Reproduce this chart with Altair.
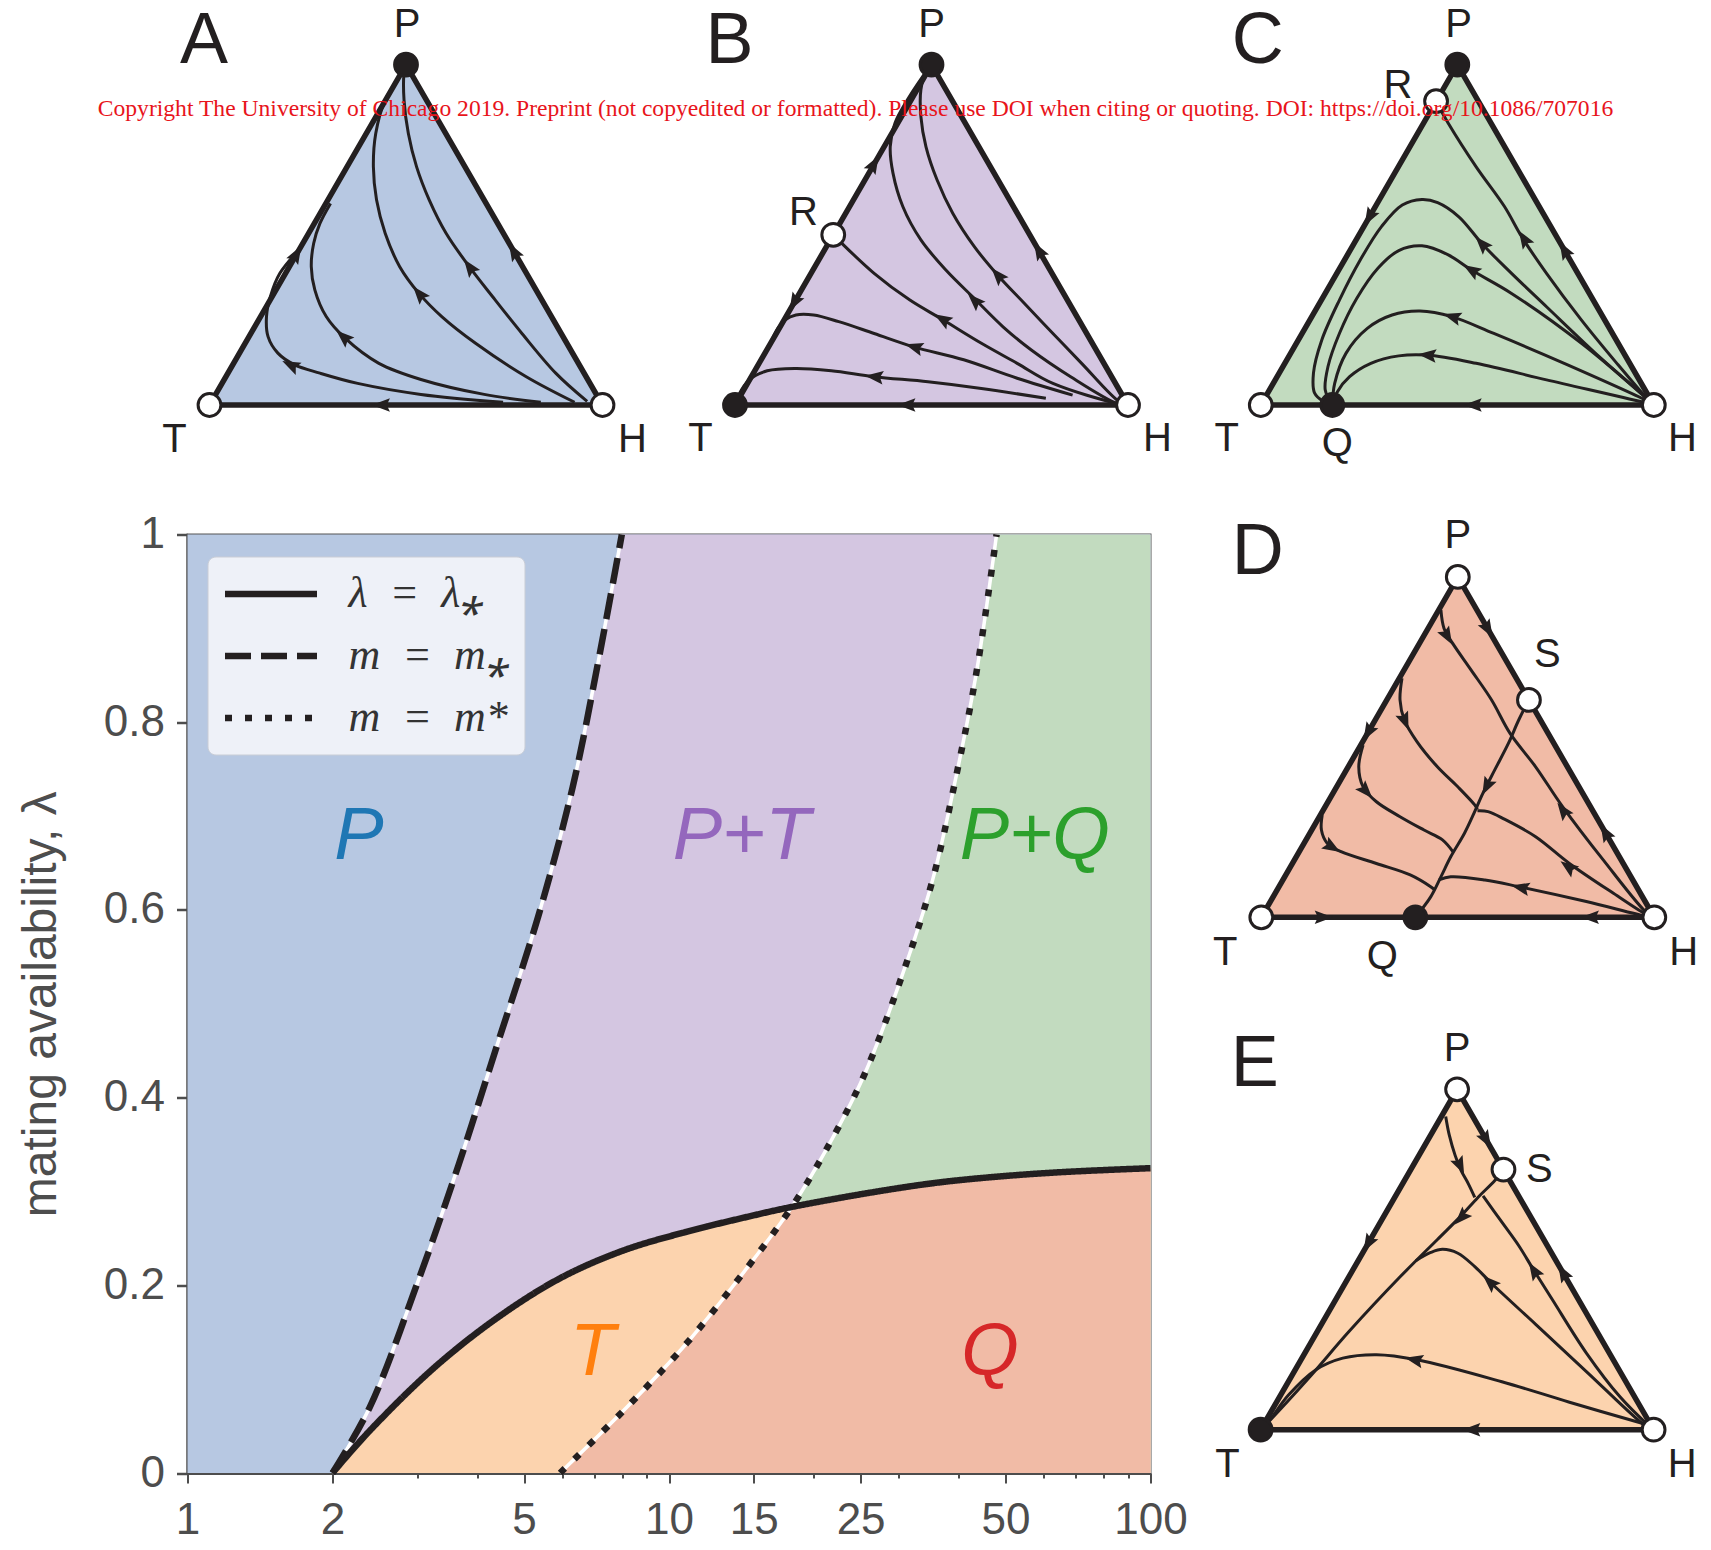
import altair as alt
import pandas as pd

BLACK = "#231F20"
GREY = "#4D4D4D"
C_BLUE = "#B7C8E2"
C_PURPLE = "#D4C6E1"
C_GREEN = "#C2DBBF"
C_PEACH = "#FCD3AE"
C_SALMON = "#F1BBA6"

WATERMARK = ("Copyright The University of Chicago 2019. Preprint (not copyedited or formatted). "
             "Please use DOI when citing or quoting. DOI: https://doi.org/10.1086/707016")

# ---------------- main panel: boundary curves (x = m, y = lambda) ----------------
DASH_X = [2.00, 2.39, 3.01, 3.66, 4.39, 5.35, 6.31, 7.12, 7.98]
DASH_Y = [0.0, 0.070, 0.204, 0.329, 0.455, 0.593, 0.731, 0.863, 1.0]
SOLID_X = [2.00, 2.40, 3.25, 4.39, 5.94, 8.03, 10.87, 14.70, 17.99, 26.89, 36.36, 49.2, 66.5, 100.0]
SOLID_Y = [0.0, 0.046, 0.112, 0.165, 0.2075, 0.237, 0.257, 0.2735, 0.2835, 0.2997, 0.3096, 0.3162, 0.3208, 0.3248]
DOT_X = [5.94, 8.03, 10.87, 14.70, 17.99, 21.11, 25.31, 30.34, 35.28, 39.8, 43.6, 47.9]
DOT_Y = [0.0, 0.066, 0.138, 0.222, 0.2835, 0.3426, 0.4216, 0.527, 0.632, 0.751, 0.856, 1.0]
CROSS_X = 17.99
CROSS_Y = 0.2835

LEG_LABELS = ["\u03bb\u2002=\u2002\u03bb\u204e", "m\u2002=\u2002m\u204e", "m\u2002=\u2002m*"]

REGION_TEXT = ["P", "P+T", "P+Q", "T", "Q"]
REGION_X = [2.27, 14.15, 57.5, 6.94, 46.4]
REGION_Y = [0.678, 0.678, 0.678, 0.128, 0.128]
REGION_COLOR = ["#1F77B4", "#9467BD", "#2CA02C", "#FF7F0E", "#D62728"]

X_MAJOR = [1, 2, 5, 10, 15, 25, 50, 100]
X_MINOR = [3, 4, 6, 7, 8, 9, 20, 30, 40, 60, 70, 80, 90]
Y_TICKS = [0, 0.2, 0.4, 0.6, 0.8, 1]

# ---------------- ternary panels (u, v): T=(0,0) H=(1,0) P=(0.5,0.866) ----------------
TRI_U = [0.0, 0.5, 1.0]
TRI_V = [0.0, 0.866, 0.0]
EDGE_U = [0.0, 1.0, 0.5, 0.0, 1.0]
EDGE_V = [0.0, 0.0, 0.866, 0.0, 0.0]

A_TRAJ = [
    [[0.747, 0.007], [0.538, 0.027], [0.377, 0.055], [0.281, 0.081], [0.217, 0.102], [0.174, 0.132],
     [0.149, 0.174], [0.145, 0.225], [0.155, 0.276], [0.179, 0.335], [0.233, 0.400]],
    [[0.843, 0.007], [0.699, 0.027], [0.538, 0.065], [0.431, 0.106], [0.345, 0.170], [0.297, 0.225],
     [0.268, 0.293], [0.259, 0.352], [0.265, 0.411], [0.281, 0.462], [0.308, 0.513]],
    [[0.929, 0.007], [0.806, 0.072], [0.677, 0.157], [0.591, 0.225], [0.533, 0.284], [0.484, 0.352],
     [0.447, 0.437], [0.425, 0.522], [0.417, 0.606], [0.423, 0.691], [0.447, 0.776], [0.484, 0.835], [0.5, 0.866]],
    [[0.961, 0.009], [0.881, 0.081], [0.795, 0.182], [0.720, 0.276], [0.661, 0.352], [0.602, 0.437],
     [0.559, 0.522], [0.527, 0.606], [0.506, 0.691], [0.495, 0.776], [0.495, 0.844], [0.5, 0.866]],
]
A_ARROWS = [[0.206, 0.102, 295.5], [0.340, 0.174, 311.6], [0.533, 0.284, 319.9], [0.661, 0.352, 323.8],
            [0.222, 0.385, 30], [0.7735, 0.392, 330], [0.436, 0.0, 270]]
A_NODES = [[0.0, 0.0, 0], [1.0, 0.0, 0], [0.5, 0.866, 1]]
A_LABELS = [["A", -0.014, 0.926, 72], ["P", 0.503, 0.968, 40], ["T", -0.089, -0.088, 40], ["H", 1.076, -0.088, 40]]

B_TRAJ = [
    [[0.25, 0.433], [0.354, 0.335], [0.445, 0.267], [0.527, 0.218], [0.627, 0.157], [0.718, 0.106],
     [0.809, 0.055], [0.972, 0.004], [1.0, 0.0]],
    [[1.0, 0.0], [0.972, 0.004], [0.854, 0.072], [0.754, 0.140], [0.682, 0.199], [0.609, 0.271], [0.536, 0.344],
     [0.473, 0.420], [0.427, 0.505], [0.402, 0.590], [0.395, 0.657], [0.407, 0.717], [0.436, 0.772],
     [0.477, 0.835], [0.5, 0.866]],
    [[1.0, 0.0], [0.977, 0.009], [0.882, 0.106], [0.809, 0.182], [0.736, 0.259], [0.668, 0.331], [0.609, 0.403],
     [0.554, 0.488], [0.514, 0.573], [0.486, 0.657], [0.473, 0.734], [0.473, 0.802], [0.486, 0.848], [0.5, 0.866]],
    [[0.859, 0.025], [0.718, 0.068], [0.582, 0.115], [0.455, 0.148], [0.354, 0.182], [0.264, 0.212],
     [0.200, 0.229], [0.155, 0.229], [0.127, 0.216], [0.109, 0.195], [0.09, 0.156]],
    [[0.791, 0.017], [0.627, 0.042], [0.491, 0.059], [0.354, 0.072], [0.245, 0.087], [0.155, 0.093],
     [0.082, 0.087], [0.036, 0.064], [0.009, 0.025], [0.0, 0.0]],
]
B_ARROWS = [[0.527, 0.219, 301.2], [0.609, 0.267, 314.8], [0.668, 0.331, 318.6], [0.455, 0.148, 286.6],
            [0.354, 0.072, 276.5], [0.150, 0.260, 210], [0.354, 0.614, 30], [0.7725, 0.394, 330], [0.436, 0.0, 270]]
B_NODES = [[0.0, 0.0, 1], [1.0, 0.0, 0], [0.5, 0.866, 1], [0.25, 0.433, 0]]
B_LABELS = [["B", -0.014, 0.926, 72], ["P", 0.5, 0.968, 40], ["T", -0.088, -0.087, 40], ["H", 1.075, -0.087, 40],
            ["R", 0.174, 0.489, 40]]

C_TRAJ = [
    [[0.446, 0.773], [0.477, 0.717], [0.548, 0.606], [0.620, 0.505], [0.664, 0.428], [0.727, 0.335],
     [0.816, 0.216], [0.906, 0.106], [0.986, 0.013], [1.0, 0.0]],
    [[1.0, 0.0], [0.986, 0.013], [0.861, 0.123], [0.727, 0.250], [0.638, 0.335], [0.566, 0.407], [0.504, 0.479],
     [0.450, 0.515], [0.410, 0.523], [0.360, 0.509], [0.307, 0.454], [0.253, 0.369], [0.200, 0.267],
     [0.155, 0.165], [0.134, 0.081], [0.137, 0.030], [0.159, 0.009], [0.182, 0.0]],
    [[1.0, 0.0], [0.986, 0.013], [0.816, 0.157], [0.638, 0.284], [0.535, 0.344], [0.477, 0.382], [0.410, 0.405],
     [0.351, 0.393], [0.298, 0.348], [0.244, 0.271], [0.200, 0.182], [0.171, 0.098], [0.164, 0.038], [0.182, 0.0]],
    [[1.0, 0.0], [0.986, 0.009], [0.772, 0.106], [0.593, 0.182], [0.486, 0.225], [0.405, 0.239], [0.334, 0.229],
     [0.271, 0.195], [0.217, 0.132], [0.188, 0.055], [0.182, 0.0]],
    [[1.0, 0.0], [0.986, 0.004], [0.727, 0.064], [0.548, 0.106], [0.423, 0.127], [0.351, 0.125], [0.280, 0.106],
     [0.226, 0.072], [0.195, 0.034], [0.182, 0.0]],
]
C_ARROWS = [[0.669, 0.424, 327.7], [0.562, 0.411, 317.1], [0.535, 0.344, 301.2], [0.486, 0.225, 286.8],
            [0.423, 0.127, 275.4], [0.2755, 0.477, 210], [0.7717, 0.3954, 330], [0.539, 0.0, 270]]
C_NODES = [[0.0, 0.0, 0], [1.0, 0.0, 0], [0.5, 0.866, 1], [0.446, 0.773, 0], [0.182, 0.0, 1]]
C_LABELS = [["C", -0.008, 0.926, 72], ["P", 0.503, 0.968, 40], ["T", -0.087, -0.087, 40], ["H", 1.073, -0.087, 40],
            ["R", 0.349, 0.811, 40], ["Q", 0.195, -0.099, 40]]

D_TRAJ = [
    [[0.681, 0.553], [0.655, 0.502], [0.629, 0.443], [0.594, 0.375], [0.564, 0.316], [0.543, 0.269],
     [0.517, 0.214], [0.482, 0.154], [0.457, 0.103], [0.431, 0.052], [0.392, 0.0]],
    [[0.457, 0.782], [0.465, 0.735], [0.487, 0.697], [0.534, 0.629], [0.586, 0.553], [0.633, 0.468],
     [0.698, 0.383], [0.767, 0.281], [0.870, 0.146], [0.982, 0.010], [1.0, 0.0]],
    [[0.358, 0.608], [0.353, 0.553], [0.364, 0.502], [0.396, 0.447], [0.448, 0.383], [0.500, 0.332],
     [0.543, 0.286], [0.550, 0.275]],
    [[0.550, 0.271], [0.577, 0.269], [0.620, 0.249], [0.698, 0.205], [0.784, 0.137], [0.896, 0.061],
     [0.982, 0.006], [1.0, 0.0]],
    [[0.259, 0.438], [0.248, 0.383], [0.259, 0.332], [0.293, 0.294], [0.353, 0.256], [0.414, 0.222],
     [0.461, 0.197], [0.489, 0.165]],
    [[0.452, 0.095], [0.482, 0.103], [0.569, 0.095], [0.655, 0.078], [0.827, 0.040], [0.982, 0.002], [1.0, 0.0]],
    [[0.155, 0.260], [0.153, 0.222], [0.168, 0.188], [0.203, 0.167], [0.293, 0.137], [0.379, 0.108],
     [0.431, 0.078], [0.440, 0.071]],
]
D_ARROWS = [[0.573, 0.332, 207.1], [0.474, 0.714, 150.5], [0.767, 0.273, 324], [0.366, 0.498, 157.9],
            [0.780, 0.129, 306], [0.267, 0.320, 138], [0.659, 0.076, 282.1], [0.181, 0.178, 121.6],
            [0.2713, 0.470, 210], [0.5773, 0.732, 150], [0.8746, 0.217, 330], [0.159, 0.0, 90], [0.836, 0.0, 270]]
D_NODES = [[0.0, 0.0, 0], [1.0, 0.0, 0], [0.5, 0.866, 0], [0.681, 0.553, 0], [0.392, 0.0, 1]]
D_LABELS = [["D", -0.009, 0.930, 72], ["P", 0.5, 0.970, 40], ["S", 0.728, 0.668, 40], ["T", -0.092, -0.091, 40],
            ["H", 1.075, -0.091, 40], ["Q", 0.308, -0.100, 40]]

E_TRAJ = [
    [[0.618, 0.662], [0.596, 0.634], [0.553, 0.591], [0.510, 0.544], [0.450, 0.484], [0.355, 0.389],
     [0.226, 0.251], [0.122, 0.131], [0.019, 0.019], [0.0, 0.0]],
    [[0.471, 0.797], [0.480, 0.750], [0.495, 0.698], [0.510, 0.660], [0.529, 0.625], [0.545, 0.591]],
    [[0.566, 0.595], [0.614, 0.528], [0.657, 0.468], [0.695, 0.406], [0.743, 0.330], [0.829, 0.195],
     [0.915, 0.083], [0.988, 0.010], [1.0, 0.0]],
    [[1.0, 0.0], [0.984, 0.006], [0.829, 0.148], [0.700, 0.268], [0.588, 0.372], [0.545, 0.415], [0.502, 0.449],
     [0.463, 0.459], [0.433, 0.451], [0.395, 0.430]],
    [[0.975, 0.015], [0.786, 0.070], [0.614, 0.122], [0.398, 0.178], [0.295, 0.191], [0.209, 0.182],
     [0.140, 0.152], [0.071, 0.088], [0.019, 0.019], [0.0, 0.0]],
]
E_ARROWS = [[0.510, 0.539, 223.8], [0.508, 0.671, 154.8], [0.695, 0.406, 327.9], [0.583, 0.376, 313.3],
            [0.390, 0.178, 282.2], [0.5748, 0.7365, 150], [0.7687, 0.4006, 330], [0.2731, 0.473, 210],
            [0.536, 0.0, 270]]
E_NODES = [[0.0, 0.0, 1], [1.0, 0.0, 0], [0.5, 0.866, 0], [0.618, 0.662, 0]]
E_LABELS = [["E", -0.015, 0.931, 72], ["P", 0.5, 0.969, 40], ["S", 0.709, 0.662, 40], ["T", -0.084, -0.089, 40],
            ["H", 1.073, -0.089, 40]]

# ---------------- layout (pixels) ----------------
PLOT_W = 963
PLOT_H = 938.5
K = 393.0  # pixels per unit triangle side
# position of each triangle's T corner, relative to the main plot's top-left corner
POS_A = (22, -129.5)
POS_B = (547.5, -129.5)
POS_C = (1073.3, -129.5)
POS_D = (1073.8, 382.8)
POS_E = (1073.1, 895.2)
WATERMARK_POS = (668, -426)

ARROW_SHAPE = "M0,-1L0.75,1L0,0.65L-0.75,1Z"


def ternary(traj, arrows, nodes, labels, fill, pos):
    px, py = pos
    xs = alt.Scale(domain=[-px / K, (PLOT_W - px) / K], nice=False, zero=False)
    ys = alt.Scale(domain=[(py - PLOT_H) / K, py / K], nice=False, zero=False)

    def X(f):
        return alt.X(f, type="quantitative", scale=xs, axis=None)

    def Y(f):
        return alt.Y(f, type="quantitative", scale=ys, axis=None)

    tri = pd.DataFrame({"u": TRI_U, "v": TRI_V, "b": [0.0] * len(TRI_U)})
    edge = pd.DataFrame({"u": EDGE_U, "v": EDGE_V, "i": list(range(len(EDGE_U)))})
    rows = []
    for k, t in enumerate(traj):
        for i, (u, v) in enumerate(t):
            rows.append({"tid": k, "i": i, "u": u, "v": v})
    tdf = pd.DataFrame(rows)
    adf = pd.DataFrame(arrows, columns=["u", "v", "a"])
    ndf = pd.DataFrame(nodes, columns=["u", "v", "s"])
    ndf["f"] = [BLACK if s else "white" for s in ndf["s"]]
    ldf = pd.DataFrame(labels, columns=["t", "u", "v", "fs"])

    l_fill = alt.Chart(tri).mark_area(color=fill, opacity=1).encode(x=X("u"), y=Y("v"), y2=alt.Y2("b"))
    l_traj = alt.Chart(tdf).mark_line(color=BLACK, strokeWidth=3, interpolate="catmull-rom").encode(
        x=X("u"), y=Y("v"), detail="tid:N", order="i:Q")
    l_edge = alt.Chart(edge).mark_line(color=BLACK, strokeWidth=5.5, strokeJoin="miter").encode(
        x=X("u"), y=Y("v"), order="i:Q")
    l_arr = alt.Chart(adf).mark_point(shape=ARROW_SHAPE, filled=True, size=330, color=BLACK, opacity=1).encode(
        x=X("u"), y=Y("v"), angle=alt.Angle("a:Q", scale=None))
    l_node = alt.Chart(ndf).mark_point(shape="circle", filled=True, size=520, stroke=BLACK, strokeWidth=3,
                                       opacity=1).encode(
        x=X("u"), y=Y("v"), fill=alt.Fill("f:N", scale=None))
    l_lab = alt.Chart(ldf).mark_text(font="Liberation Sans", color=BLACK, align="center", baseline="middle").encode(
        x=X("u"), y=Y("v"), text="t:N", size=alt.Size("fs:Q", scale=None))
    return alt.layer(l_fill, l_traj, l_edge, l_arr, l_node, l_lab)


# ---------------- main chart ----------------
XS = alt.Scale(type="log", domain=[1, 100], nice=False)
YS = alt.Scale(domain=[0, 1], nice=False, zero=False)
MAJOR_TEST = "indexof([1,2,5,10,15,25,50,100], datum.value) >= 0"
X_AXIS = alt.Axis(values=sorted(X_MAJOR + X_MINOR), format="d", labelExpr=MAJOR_TEST + " ? datum.label : ''",
                  tickSize={"condition": {"test": MAJOR_TEST, "value": 10}, "value": 5},
                  tickWidth=2, tickColor=GREY, domainColor=GREY, domainWidth=3, labelFontSize=44,
                  labelColor=GREY, labelPadding=15, labelFlush=False, labelOverlap=False, grid=False, title=None,
                  labelFont="Liberation Sans")
Y_AXIS = alt.Axis(values=Y_TICKS, labelExpr="datum.value == 0 ? '0' : datum.value == 1 ? '1' : format(datum.value, '.1f')",
                  tickSize=11, tickWidth=2.5, tickColor=GREY, domainColor=GREY, domainWidth=3, labelFontSize=44,
                  labelColor=GREY, labelPadding=12, labelFlush=False, labelOverlap=False, grid=False,
                  title="mating availability, \u03bb", titleFontSize=48, titleFontWeight="normal",
                  titleColor=GREY, titlePadding=38, labelFont="Liberation Sans", titleFont="Liberation Sans")


def MX(f):
    return alt.X(f, type="quantitative", scale=XS, axis=X_AXIS)


def MY(f):
    return alt.Y(f, type="quantitative", scale=YS, axis=Y_AXIS)


bg = pd.DataFrame({"x": [1.0], "x2": [100.0], "y": [0.0], "y2": [1.0]})
dash_df = pd.DataFrame({"x": DASH_X, "y": DASH_Y, "x2": [100.0] * len(DASH_X)})
dot_df = pd.DataFrame({"x": DOT_X, "y": DOT_Y, "x2": [100.0] * len(DOT_X)})
solid_df = pd.DataFrame({"x": SOLID_X, "y": SOLID_Y, "y2": [0.0] * len(SOLID_X)})
sal1 = dot_df[dot_df["y"] <= CROSS_Y]
sal2 = solid_df[solid_df["x"] >= CROSS_X].assign(y2=0.265)

curves = []
for name, xs_, ys_ in [(LEG_LABELS[0], SOLID_X, SOLID_Y), (LEG_LABELS[1], DASH_X, DASH_Y),
                       (LEG_LABELS[2], DOT_X, DOT_Y)]:
    for i, (a, b) in enumerate(zip(xs_, ys_)):
        curves.append({"curve": name, "i": i, "x": a, "y": b})
cdf = pd.DataFrame(curves)
under = cdf[cdf["curve"] != LEG_LABELS[0]]

reg = pd.DataFrame({"t": REGION_TEXT, "x": REGION_X, "y": REGION_Y, "c": REGION_COLOR})

L_bg = alt.Chart(bg).mark_rect(color=C_BLUE, opacity=1).encode(x=MX("x"), x2=alt.X2("x2"), y=MY("y"), y2=alt.Y2("y2"))
L_pur = alt.Chart(dash_df).mark_area(orient="horizontal", color=C_PURPLE, opacity=1, interpolate="catmull-rom").encode(
    y=MY("y"), x=MX("x"), x2=alt.X2("x2"))
L_grn = alt.Chart(dot_df).mark_area(orient="horizontal", color=C_GREEN, opacity=1, interpolate="catmull-rom").encode(
    y=MY("y"), x=MX("x"), x2=alt.X2("x2"))
L_pch = alt.Chart(solid_df).mark_area(color=C_PEACH, opacity=1, interpolate="catmull-rom").encode(
    x=MX("x"), y=MY("y"), y2=alt.Y2("y2"))
L_sal1 = alt.Chart(sal1).mark_area(orient="horizontal", color=C_SALMON, opacity=1, interpolate="catmull-rom").encode(
    y=MY("y"), x=MX("x"), x2=alt.X2("x2"))
L_sal2 = alt.Chart(sal2).mark_area(color=C_SALMON, opacity=1, interpolate="catmull-rom").encode(
    x=MX("x"), y=MY("y"), y2=alt.Y2("y2"))
L_under = alt.Chart(under).mark_line(color="white", strokeWidth=3.5, interpolate="catmull-rom").encode(
    x=MX("x"), y=MY("y"), detail="curve:N", order="i:Q")
L_lines = alt.Chart(cdf).mark_line(color=BLACK, strokeWidth=6.5, strokeCap="butt", interpolate="catmull-rom").encode(
    x=MX("x"), y=MY("y"), order="i:Q",
    strokeDash=alt.StrokeDash(
        "curve:N",
        scale=alt.Scale(domain=LEG_LABELS, range=[[1, 0], [26, 10], [7, 13]]),
        legend=alt.Legend(title=None, orient="none", legendX=20, legendY=22, symbolType="M-1,0L3.6,0",
                          symbolSize=1600, symbolStrokeWidth=6.5, symbolStrokeColor=BLACK,
                          symbolFillColor="transparent", labelFont="Liberation Serif", labelFontStyle="italic",
                          labelFontSize=44, labelColor="#333333", labelOffset=80, rowPadding=16, padding=14,
                          fillColor="#EEF1F8", strokeColor="#C9CDD6", cornerRadius=8, labelLimit=400)))
L_text = alt.Chart(reg).mark_text(font="Liberation Sans", fontStyle="italic", fontSize=74, align="center",
                                  baseline="middle").encode(
    x=MX("x"), y=MY("y"), text="t:N", color=alt.Color("c:N", scale=None))

main = alt.layer(L_bg, L_pur, L_grn, L_pch, L_sal1, L_sal2, L_under, L_lines, L_text)

A = ternary(A_TRAJ, A_ARROWS, A_NODES, A_LABELS, C_BLUE, POS_A)
B = ternary(B_TRAJ, B_ARROWS, B_NODES, B_LABELS, C_PURPLE, POS_B)
C = ternary(C_TRAJ, C_ARROWS, C_NODES, C_LABELS, C_GREEN, POS_C)
D = ternary(D_TRAJ, D_ARROWS, D_NODES, D_LABELS, C_SALMON, POS_D)
E = ternary(E_TRAJ, E_ARROWS, E_NODES, E_LABELS, C_PEACH, POS_E)

wm = alt.Chart(pd.DataFrame({"t": [WATERMARK]})).mark_text(
    font="Liberation Serif", fontSize=23.6, color="#E8141B", align="center", baseline="middle").encode(
    text="t:N", x=alt.value(WATERMARK_POS[0]), y=alt.value(WATERMARK_POS[1]))

chart = alt.layer(main, A, B, C, D, E, wm).resolve_scale(x="independent", y="independent").properties(
    width=PLOT_W, height=PLOT_H,
    view=alt.ViewBackground(stroke="#555555", strokeWidth=2),
    padding={"left": 179.5, "top": 526.5, "right": 552, "bottom": 69},
    autosize=alt.AutoSizeParams(type="none"),
).configure(font="Liberation Sans")

chart.save("out.html", embed_options={"renderer": "svg", "actions": False})
